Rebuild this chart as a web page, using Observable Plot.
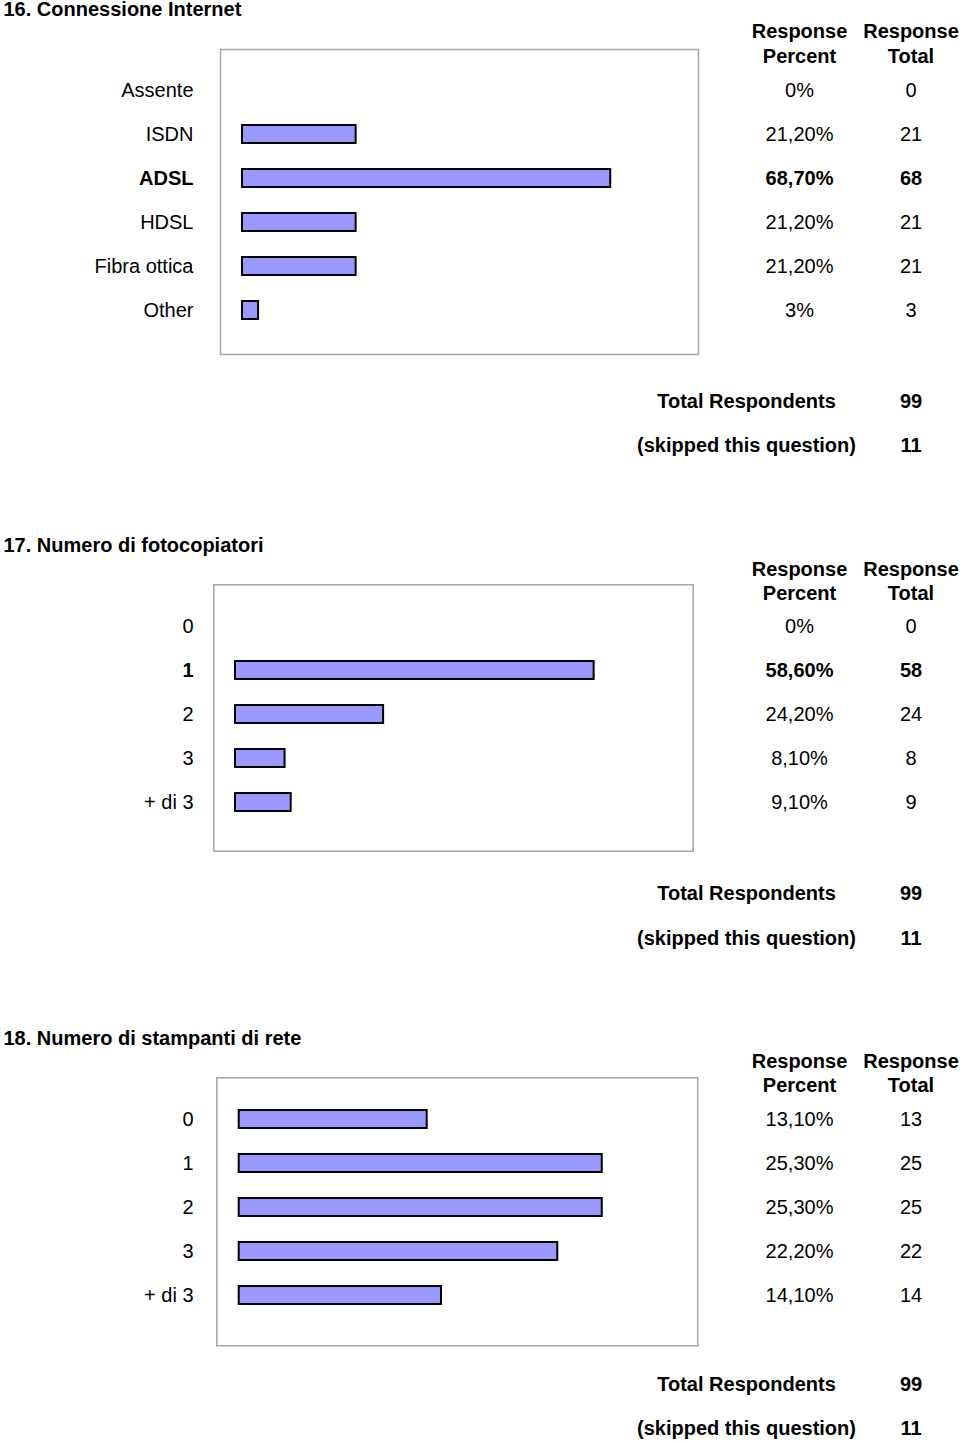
<!DOCTYPE html>
<html>
<head>
<meta charset="utf-8">
<script src="https://cdn.jsdelivr.net/npm/d3@7"></script>
<script src="https://cdn.jsdelivr.net/npm/@observablehq/plot@0.6"></script>
<style>
  html, body { margin: 0; padding: 0; background: #fff; }
  #chart { width: 960px; }
  #chart svg { display: block; }
</style>
</head>
<body>
<div id="chart"></div>
<script>
// ---------- DATA ----------
const q16Title = "16. Connessione Internet";
const q16Categories = ["Assente", "ISDN", "ADSL", "HDSL", "Fibra ottica", "Other"];
const q16Percent = [0, 21.2, 68.7, 21.2, 21.2, 3];
const q16PercentLabels = ["0%", "21,20%", "68,70%", "21,20%", "21,20%", "3%"];
const q16Totals = [0, 21, 68, 21, 21, 3];
const q16Highlight = "ADSL";
const q16Summary = [99, 11];

const q17Title = "17. Numero di fotocopiatori";
const q17Categories = ["0", "1", "2", "3", "+ di 3"];
const q17Percent = [0, 58.6, 24.2, 8.1, 9.1];
const q17PercentLabels = ["0%", "58,60%", "24,20%", "8,10%", "9,10%"];
const q17Totals = [0, 58, 24, 8, 9];
const q17Highlight = "1";
const q17Summary = [99, 11];

const q18Title = "18. Numero di stampanti di rete";
const q18Categories = ["0", "1", "2", "3", "+ di 3"];
const q18Percent = [13.1, 25.3, 25.3, 22.2, 14.1];
const q18PercentLabels = ["13,10%", "25,30%", "25,30%", "22,20%", "14,10%"];
const q18Totals = [13, 25, 25, 22, 14];
const q18Highlight = null;
const q18Summary = [99, 11];

const headerPercent = ["Response", "Percent"];
const headerTotal = ["Response", "Total"];
const summaryLabels = ["Total Respondents", "(skipped this question)"];

// ---------- LAYOUT (absolute page pixels) ----------
const layouts = [
  { top: 0,   height: 495, titleY: 9.5,  headerY: [31.5, 56.5],  frame: [220, 49, 698, 354],
    row0: 88.8,  step: 44.3, barStart: 242,   pxPer: 5.36,  summaryY: [401.5, 445.5] },
  { top: 495, height: 495, titleY: 545.5, headerY: [569, 593.5], frame: [213.3, 584.3, 692.7, 850.7],
    row0: 624.6, step: 44.7, barStart: 235,   pxPer: 6.12,  summaryY: [893, 938] },
  { top: 990, height: 452, titleY: 1038.5, headerY: [1061, 1085.5], frame: [216.3, 1077.3, 697.3, 1345.3],
    row0: 1117.5, step: 44.8, barStart: 238.7, pxPer: 14.35, summaryY: [1384.5, 1428.5] }
];
const colPercentX = 799, colTotalX = 910.5, labelRightX = 193, titleX = 3, summaryLabelX = 746;

const FONT = "'Liberation Sans', Arial, Helvetica, sans-serif";
const FS = 20;

function section(q, L) {
  const rows = q.categories.map((c, i) => ({
    cat: c, pct: q.percent[i], label: q.percentLabels[i], total: String(q.totals[i]), bold: c === q.highlight
  }));
  const t = L.top;
  const [fl, ft, fr, fb] = L.frame;
  const n = rows.length;
  const yStart = L.row0 - t - L.step / 2;
  const yEnd = L.row0 - t + (n - 0.5) * L.step;
  const ax = x => x - fl;
  const ay = y => y - ft;
  const normal = rows.filter(d => !d.bold);
  const bold = rows.filter(d => d.bold);
  const rowText = (data, field, x, weight, anchor) =>
    Plot.text(data, { y: "cat", text: field, frameAnchor: "left", lineAnchor: "middle", dx: ax(x), dy: 0,
      textAnchor: anchor, fontSize: FS, fontWeight: weight, fill: "#000" });
  const fixedText = (str, x, y, weight, anchor) =>
    Plot.text([str], { text: d => d, frameAnchor: "top-left", lineAnchor: "middle", dx: ax(x), dy: ay(y),
      textAnchor: anchor, fontSize: FS, fontWeight: weight, fill: "#000" });

  return Plot.plot({
    width: 960,
    height: L.height,
    marginLeft: fl,
    marginRight: 960 - fr,
    marginTop: ft - t,
    marginBottom: t + L.height - fb,
    style: { fontFamily: FONT, background: "#fff", overflow: "visible" },
    x: { axis: null, domain: [0, 100], range: [L.barStart, L.barStart + 100 * L.pxPer] },
    y: { axis: null, domain: q.categories, range: [yStart, yEnd], paddingInner: 0.6, paddingOuter: 0.3 },
    marks: [
      Plot.frame({ stroke: "#a6a6a6", strokeWidth: 1.5 }),
      Plot.barX(rows.filter(d => d.pct > 0), { x: "pct", y: "cat", fill: "#9999ff", stroke: "#000", strokeWidth: 2 }),
      // title
      fixedText(q.title, titleX, L.titleY, "bold", "start"),
      // column headers
      fixedText(headerPercent[0], colPercentX, L.headerY[0], "bold", "middle"),
      fixedText(headerPercent[1], colPercentX, L.headerY[1], "bold", "middle"),
      fixedText(headerTotal[0], colTotalX, L.headerY[0], "bold", "middle"),
      fixedText(headerTotal[1], colTotalX, L.headerY[1], "bold", "middle"),
      // row labels & columns
      rowText(normal, "cat", labelRightX, "normal", "end"),
      rowText(bold, "cat", labelRightX, "bold", "end"),
      rowText(normal, "label", colPercentX, "normal", "middle"),
      rowText(bold, "label", colPercentX, "bold", "middle"),
      rowText(normal, "total", colTotalX, "normal", "middle"),
      rowText(bold, "total", colTotalX, "bold", "middle"),
      // summary
      fixedText(summaryLabels[0], summaryLabelX, L.summaryY[0], "bold", "middle"),
      fixedText(String(q.summary[0]), colTotalX, L.summaryY[0], "bold", "middle"),
      fixedText(summaryLabels[1], summaryLabelX, L.summaryY[1], "bold", "middle"),
      fixedText(String(q.summary[1]), colTotalX, L.summaryY[1], "bold", "middle")
    ]
  });
}

const questions = [
  { title: q16Title, categories: q16Categories, percent: q16Percent, percentLabels: q16PercentLabels, totals: q16Totals, highlight: q16Highlight, summary: q16Summary },
  { title: q17Title, categories: q17Categories, percent: q17Percent, percentLabels: q17PercentLabels, totals: q17Totals, highlight: q17Highlight, summary: q17Summary },
  { title: q18Title, categories: q18Categories, percent: q18Percent, percentLabels: q18PercentLabels, totals: q18Totals, highlight: q18Highlight, summary: q18Summary }
];

const container = document.getElementById("chart");
questions.forEach((q, i) => container.appendChild(section(q, layouts[i])));
</script>
</body>
</html>
